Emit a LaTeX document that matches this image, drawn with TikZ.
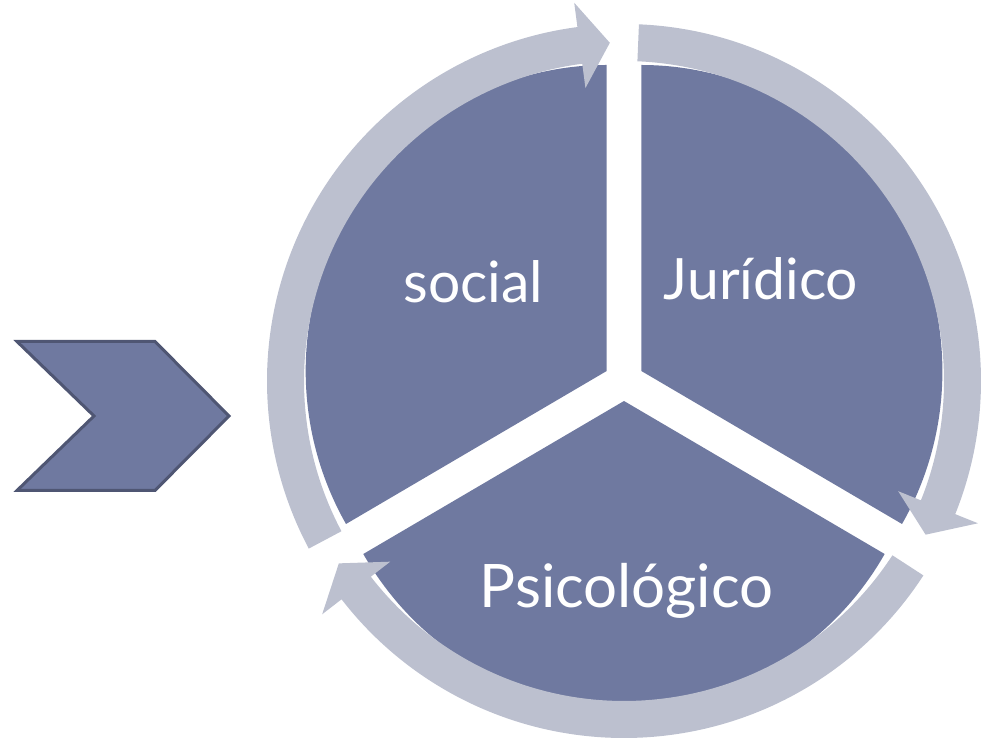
\documentclass[tikz,border=0pt]{standalone}
\usepackage{fontspec}
\setmainfont{Lato}
\usetikzlibrary{calc}
\definecolor{segfill}{HTML}{6F79A0}
\definecolor{ringfill}{HTML}{BCC0CF}
\definecolor{chevdraw}{HTML}{4F5673}
\tikzset{
  segment/.style={fill=segfill},
  ring/.style={fill=ringfill},
  seglabel/.style={text=white, inner sep=0pt, anchor=base},
  chevron/.style={fill=segfill, draw=chevdraw, line width=3pt, line join=miter},
}
\newcommand{\ringarrow}[3]{%
  \fill[ring] ($(C)+(#1:357pt)$) arc[start angle=#1, end angle=#2, radius=357pt]
    -- ($(C)+(#2:381.5pt)$) -- ($(C)+(#3:338.5pt)$) -- ($(C)+(#2:295.5pt)$)
    -- ($(C)+(#2:320pt)$) arc[start angle=#2, end angle=#1, radius=320pt] -- cycle;}
\begin{document}
\begin{tikzpicture}[x=1pt,y=1pt]
\useasboundingbox (0,0) rectangle (992,746);
\coordinate (C) at (624,365);
\coordinate (S1) at ($(C)+(150:20pt)$);
\coordinate (S2) at ($(C)+(30:20pt)$);
\coordinate (S3) at ($(C)+(270:20pt)$);
% sectors
\fill[segment] (S1) -- ++(0,306) arc[start angle=90, end angle=210, x radius=301pt, y radius=306pt] -- cycle;
\fill[segment] (S2) -- ++(260.7,-153) arc[start angle=-30, end angle=90, x radius=301pt, y radius=306pt] -- cycle;
\fill[segment] (S3) -- ++(-260.7,-153) arc[start angle=210, end angle=330, x radius=301pt, y radius=306pt] -- cycle;
% circular arrows
\ringarrow{208}{97.5}{92.4}
\ringarrow{87.6}{-21.9}{-27}
\ringarrow{-33}{-142.3}{-147.4}
% labels
\node[seglabel, font=\fontsize{57}{60}\selectfont] (social) at (473.5,443) {social};
\node[seglabel, font=\fontsize{57}{60}\selectfont] (juridico) at (761,446) {Jurídico};
\node[seglabel, font=\fontsize{60}{63}\selectfont] (psico) at (626.5,138) {Psicológico};
% chevron
\draw[chevron] (17,404.5) -- (155,404.5) -- (229,330) -- (155,255.5) -- (17,255.5) -- (94,330) -- cycle;
\end{tikzpicture}
\end{document}
